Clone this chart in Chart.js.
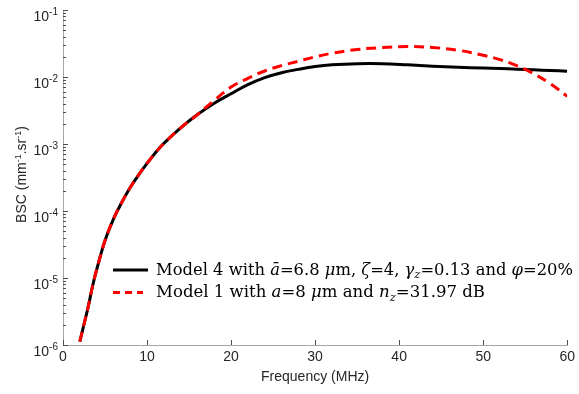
<!DOCTYPE html>
<html>
<head>
<meta charset="utf-8">
<script src="https://cdn.jsdelivr.net/npm/chart.js@4"></script>
<style>
html, body { margin: 0; padding: 0; background: #fff; }
#wrap { width: 579px; height: 394px; }
</style>
</head>
<body>
<div id="wrap"><canvas id="bscChart" width="579" height="394"></canvas></div>
<script>
// Frequency samples (MHz) and BSC values (mm^-1.sr^-1)
const freqs = [2, 2.5, 3, 3.5, 4, 5, 6, 7, 8, 9, 10, 11, 12, 14, 16, 18, 20, 22, 24, 26, 28, 30, 32, 35, 38, 41, 44, 47, 50, 52, 54, 56, 58, 60];
const model4 = [1.12e-6, 2.04e-6, 3.72e-6, 7.41e-6, 1.32e-5, 3.63e-5, 7.59e-5, 1.35e-4, 2.24e-4, 3.47e-4, 5.13e-4, 7.41e-4, 1.02e-3, 1.74e-3, 2.75e-3,
    4.07e-3, 5.62e-3, 7.67e-3, 9.77e-3, 1.16e-2, 1.30e-2, 1.43e-2, 1.52e-2, 1.58e-2, 1.58e-2, 1.52e-2, 1.45e-2, 1.40e-2, 1.36e-2, 1.34e-2, 1.31e-2, 1.28e-2, 1.25e-2, 1.22e-2];
const model1 = [1.12e-6, 2.04e-6, 3.72e-6, 7.41e-6, 1.32e-5, 3.63e-5, 7.59e-5, 1.35e-4, 2.24e-4, 3.47e-4, 5.13e-4, 7.41e-4, 1.02e-3, 1.74e-3, 2.75e-3,
    4.47e-3, 7.08e-3, 9.55e-3, 1.23e-2, 1.48e-2, 1.72e-2, 2.00e-2, 2.26e-2, 2.57e-2, 2.75e-2, 2.85e-2, 2.75e-2, 2.51e-2, 2.11e-2, 1.82e-2, 1.48e-2, 1.12e-2, 7.94e-3, 5.13e-3];
const xTicks = [0, 10, 20, 30, 40, 50, 60];
const yExponents = [-6, -5, -4, -3, -2, -1];

const sans = '"Liberation Sans", Arial, sans-serif';
const serif = '"DejaVu Serif", "Liberation Serif", serif';
const textColor = '#262626';

// legend text pieces: [text, style]
const legendRows = [
    { color: '#000', dash: [], end: 148, width: 417, parts: [['Model 4 with ', 'r'], ['ā', 'i'], ['=6.8 ', 'r'], ['μ', 'i'], ['m, ', 'r'], ['ζ', 'i'], ['=4, ', 'r'],
        ['γ', 'i'], ['z', 'sub'], ['=0.13 and ', 'r'], ['φ', 'i'], ['=20%', 'r']] },
    { color: '#ff0000', dash: [7, 5], end: 143, width: 329, parts: [['Model 1 with ', 'r'], ['a', 'i'], ['=8 ', 'r'], ['μ', 'i'], ['m and ', 'r'], ['n', 'i'], ['z', 'sub'], ['=31.97 dB', 'r']] }
];

function pieceFont(st, size) {
    if (st === 'i') return { font: 'italic ' + size + 'px ' + serif, dy: 0 };
    if (st === 'sub') return { font: 'italic ' + (size * 0.7) + 'px ' + serif, dy: size * 0.22 };
    return { font: size + 'px ' + serif, dy: 0 };
}

function richWidth(ctx, parts, size) {
    let w = 0;
    parts.forEach(([txt, st]) => { ctx.font = pieceFont(st, size).font; w += ctx.measureText(txt).width; });
    return w;
}

function drawRich(ctx, parts, x, y, size, sx) {
    ctx.save();
    ctx.translate(x, y);
    ctx.scale(sx, 1);
    let cx = 0;
    parts.forEach(([txt, st]) => {
        const p = pieceFont(st, size);
        ctx.font = p.font;
        ctx.fillText(txt, cx, p.dy);
        cx += ctx.measureText(txt).width;
    });
    ctx.restore();
}

const decorPlugin = {
    id: 'decor',
    afterDraw(chart) {
        const ctx = chart.ctx;
        const xs = chart.scales.x, ys = chart.scales.y;
        const area = chart.chartArea;
        ctx.save();

        // inward tick marks
        ctx.strokeStyle = '#4d4d4d';
        ctx.lineWidth = 1;
        ctx.beginPath();
        xTicks.forEach(v => {
            const px = Math.round(xs.getPixelForValue(v)) + 0.5;
            ctx.moveTo(px, area.bottom);
            ctx.lineTo(px, area.bottom - 5);
        });
        yExponents.forEach(e => {
            const py = Math.round(ys.getPixelForValue(Math.pow(10, e))) + 0.5;
            ctx.moveTo(area.left, py);
            ctx.lineTo(area.left + 5, py);
            if (e > -6) {
                for (let m = 2; m <= 9; m++) {
                    const q = Math.round(ys.getPixelForValue(m * Math.pow(10, e - 1))) + 0.5;
                    ctx.moveTo(area.left, q);
                    ctx.lineTo(area.left + 3, q);
                }
            }
        });
        ctx.stroke();

        // y tick labels 10^n
        ctx.fillStyle = textColor;
        ctx.textBaseline = 'alphabetic';
        ctx.textAlign = 'left';
        yExponents.forEach(e => {
            const py = ys.getPixelForValue(Math.pow(10, e));
            const sup = String(e);
            ctx.font = '10px ' + sans;
            const wSup = ctx.measureText(sup).width;
            ctx.font = '14px ' + sans;
            const wBase = ctx.measureText('10').width;
            const right = 58;
            ctx.fillText('10', right - wSup - wBase, py + 10.5);
            ctx.font = '10px ' + sans;
            ctx.fillText(sup, right - wSup, py + 5);
        });

        // y axis title with superscripts
        const titleParts = [['BSC (mm', 14, 0], ['-1', 9, -5], ['.sr', 14, 0], ['-1', 9, -5], [')', 14, 0]];
        let total = 0;
        titleParts.forEach(([t, s]) => { ctx.font = s + 'px ' + sans; total += ctx.measureText(t).width; });
        ctx.translate(25.5, (area.top + area.bottom) / 2 - 3);
        ctx.rotate(-Math.PI / 2);
        let tx = -total / 2;
        titleParts.forEach(([t, s, dy]) => {
            ctx.font = s + 'px ' + sans;
            ctx.fillText(t, tx, dy);
            tx += ctx.measureText(t).width;
        });
        ctx.setTransform(1, 0, 0, 1, 0, 0);

        // legend
        const rowY = [270, 292.5];
        const size = 16.5;
        legendRows.forEach((row, i) => {
            ctx.strokeStyle = row.color;
            ctx.lineWidth = 3;
            ctx.setLineDash(row.dash);
            ctx.beginPath();
            ctx.moveTo(113, rowY[i]);
            ctx.lineTo(row.end, rowY[i]);
            ctx.stroke();
            ctx.setLineDash([]);
            ctx.fillStyle = '#000';
            const sx = row.width / richWidth(ctx, row.parts, size);
            drawRich(ctx, row.parts, 156, rowY[i] + 4.5, size, sx);
        });
        ctx.restore();
    }
};

const pts = arr => freqs.map((f, i) => ({ x: f, y: arr[i] }));

new Chart(document.getElementById('bscChart'), {
    type: 'line',
    data: {
        datasets: [
            { label: 'Model 4', data: pts(model4), borderColor: '#000', borderWidth: 3, pointRadius: 0, fill: false, tension: 0.4, order: 1 },
            { label: 'Model 1', data: pts(model1), borderColor: '#ff0000', borderWidth: 3, borderDash: [10, 6], pointRadius: 0, fill: false, tension: 0.4, order: 0 }
        ]
    },
    options: {
        responsive: false,
        animation: false,
        devicePixelRatio: 1,
        layout: { padding: { left: 0, right: 9, top: 10, bottom: 0 } },
        plugins: { legend: { display: false }, tooltip: { enabled: false } },
        scales: {
            x: {
                type: 'linear',
                min: 0, max: 60,
                afterBuildTicks: s => { s.ticks = xTicks.map(v => ({ value: v })); },
                afterFit: s => { s.height = 49; },
                grid: { display: false, drawTicks: false },
                border: { display: true, color: '#a6a6a6', width: 1 },
                ticks: { color: textColor, font: { family: sans, size: 14 }, padding: 4, maxRotation: 0 },
                title: { display: true, text: 'Frequency (MHz)', color: textColor, font: { family: sans, size: 14 }, padding: { top: 0, bottom: 8 } }
            },
            y: {
                type: 'logarithmic',
                min: 1e-6, max: 1e-1,
                afterFit: s => { s.width = 63; },
                grid: { display: false, drawTicks: false },
                border: { display: true, color: '#a6a6a6', width: 1 },
                ticks: { display: false }
            }
        }
    },
    plugins: [decorPlugin]
});
</script>
</body>
</html>
